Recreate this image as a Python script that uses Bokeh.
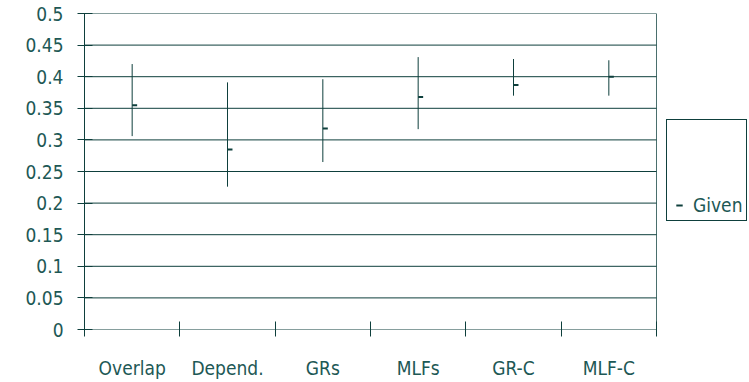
from bokeh.plotting import figure
from bokeh.models import (Range1d, LinearAxis, FixedTicker, Legend, LegendItem,
                          ColumnDataSource)
from bokeh.transform import dodge
from bokeh.embed import file_html
from bokeh.resources import INLINE

# ---- data ----
categories = ["Overlap", "Depend.", "GRs", "MLFs", "GR-C", "MLF-C"]
high = [0.420, 0.391, 0.396, 0.431, 0.428, 0.426]
low = [0.306, 0.226, 0.265, 0.317, 0.370, 0.370]
close = [0.355, 0.285, 0.318, 0.368, 0.387, 0.400]
series_name = "Given"
y_ticks = [0, 0.05, 0.1, 0.15, 0.2, 0.25, 0.3, 0.35, 0.4, 0.45, 0.5]
y_tick_labels = ["0", "0.05", "0.1", "0.15", "0.2", "0.25", "0.3", "0.35", "0.4", "0.45", "0.5"]

LINE = "#0e3f3c"
TEXT = "#1d5855"
FONT = "DejaVu Sans Condensed"
FS = "19px"

n = len(categories)
centers = [i + 0.5 for i in range(n)]          # category slot centres
boundaries = list(range(n + 1))                  # category slot edges
Y_MAX = y_ticks[-1]

# plot area is 572px wide; the frame is widened to the right edge so the
# legend box (right of the plot area) can sit inside it
PLOT_W, FRAME_W = 572, 665
x_end = n * FRAME_W / PLOT_W

src = ColumnDataSource(dict(x=centers, high=high, low=low, close=close))
grid_src = ColumnDataSource(dict(y=y_ticks))

p = figure(width=749, height=382, output_backend="svg", toolbar_location=None,
           x_range=Range1d(0, x_end), y_range=Range1d(0, Y_MAX),
           x_axis_location=None,
           min_border_left=84, min_border_top=13,
           min_border_bottom=53, min_border_right=0)
p.background_fill_color = "white"
p.border_fill_color = "white"
p.outline_line_color = None
p.xgrid.visible = False
p.ygrid.visible = False

# y axis
ya = p.yaxis[0]
ya.ticker = FixedTicker(ticks=y_ticks)
ya.major_label_overrides = {t: l for t, l in zip(y_ticks, y_tick_labels)}
ya.major_tick_in = 8
ya.major_tick_out = 7
ya.minor_tick_line_color = None
ya.major_label_standoff = 14
ya.axis_line_color = LINE
ya.major_tick_line_color = LINE
ya.major_label_text_color = TEXT
ya.major_label_text_font = FONT
ya.major_label_text_font_size = FS

# horizontal gridlines (incl. x-axis line at 0 and top border at 0.5), only across the plot area
p.segment(x0=0, y0="y", x1=n, y1="y", source=grid_src, line_color=LINE, line_width=1)
# right border of the plot area
p.segment(x0=n, y0=0, x1=n, y1=Y_MAX, line_color=LINE, line_width=1, line_alpha=0.75)

# x axis: boundary ticks + category labels
tick_axis = LinearAxis(ticker=FixedTicker(ticks=boundaries),
                       major_tick_in=8, major_tick_out=7,
                       minor_tick_line_color=None,
                       major_label_text_font_size="2px", major_label_text_color=None,
                       major_label_standoff=0,
                       axis_line_color=None, major_tick_line_color=LINE)
p.add_layout(tick_axis, "below")
label_axis = LinearAxis(ticker=FixedTicker(ticks=centers),
                        major_label_overrides={c: l for c, l in zip(centers, categories)},
                        axis_line_color=None, major_tick_line_color=None,
                        minor_tick_line_color=None,
                        major_tick_in=0, major_tick_out=0,
                        major_label_standoff=20,
                        major_label_text_color=TEXT,
                        major_label_text_font=FONT,
                        major_label_text_font_size=FS)
p.add_layout(label_axis, "below")

# high-low lines and close ticks
p.segment(x0="x", y0="low", x1="x", y1="high", source=src,
          line_color=LINE, line_width=1)
cl = p.scatter(x=dodge("x", 0.026), y="close", source=src,
               marker="dash", size=5, line_color=LINE, line_width=2)

legend = Legend(items=[LegendItem(label=series_name, renderers=[cl])],
                location=(582, 108), margin=0, padding=4,
                glyph_width=16, glyph_height=20, label_standoff=6,
                label_text_font=FONT, label_text_font_size=FS,
                label_text_color=TEXT,
                border_line_color=LINE, border_line_width=1, border_line_alpha=1,
                background_fill_color="white", background_fill_alpha=1,
                title=" ", title_text_font_size="56px", title_standoff=5)
p.add_layout(legend, "center")

open("out.html", "w").write(file_html(p, INLINE))
